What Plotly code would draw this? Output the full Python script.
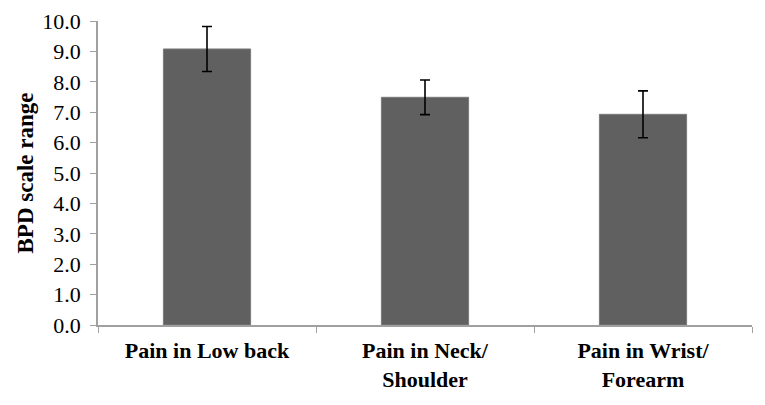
import plotly.graph_objects as go

categories = ["Pain in Low back", "Pain in Neck/<br>Shoulder", "Pain in Wrist/<br>Forearm"]
values = [9.08, 7.49, 6.93]
errors = [0.74, 0.57, 0.77]
y_ticks = [0, 1, 2, 3, 4, 5, 6, 7, 8, 9, 10]

fig = go.Figure(go.Bar(
    x=categories, y=values,
    marker=dict(color="#606060", line=dict(color="#7a7a7a", width=1)),
    width=0.4,
    error_y=dict(type="data", array=errors, visible=True, color="black", thickness=1.6, width=5),
))

font = "Liberation Serif, Times New Roman, serif"
# page body has an 8px margin, compensated in the figure margins
fig.update_layout(
    width=765, height=405,
    margin=dict(l=90, r=21, t=13, b=88),
    paper_bgcolor="white", plot_bgcolor="white",
    showlegend=False,
    font=dict(family=font, color="black"),
)
fig.update_xaxes(
    automargin=False,
    showline=True, linecolor="#a0a0a0", linewidth=1.5,
    ticks="outside", tickson="boundaries", ticklen=6, tickcolor="#a0a0a0",
    tickfont=dict(family=font, size=22, color="black", weight="bold"),
    ticklabelstandoff=5,
    range=[-0.5, 2.5],
)
fig.update_yaxes(
    automargin=False,
    range=[0, 10], tickvals=y_ticks, ticktext=[f"{v:.1f}" for v in y_ticks],
    showline=True, linecolor="#a0a0a0", linewidth=1.5,
    ticks="outside", ticklen=6, tickcolor="#a0a0a0",
    ticklabelstandoff=5,
    showgrid=False, zeroline=False,
    tickfont=dict(family=font, size=22, color="black"),
    title=dict(text="BPD scale range", font=dict(family=font, size=23, color="black", weight="bold"), standoff=2),
)
fig.write_html("out.html")
